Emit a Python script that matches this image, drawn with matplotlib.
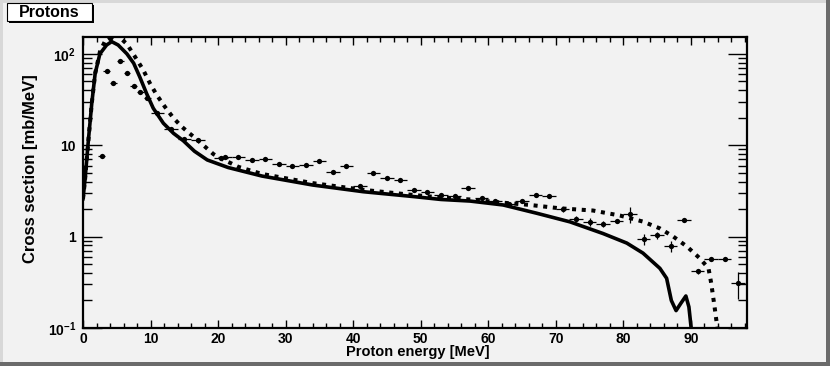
#!/usr/bin/env python3

import matplotlib
matplotlib.use("Agg")
import matplotlib.pyplot as plt
from matplotlib.patches import Rectangle
from matplotlib.ticker import FixedLocator, LogLocator, MultipleLocator, NullFormatter
import numpy as np

# measured points
energy = [2.75, 3.5, 4.0, 4.5, 5.5, 6.5, 7.5, 8.5, 9.5, 11, 13, 15, 17, 20.4, 21,
          23, 25, 27, 29, 31, 33, 35, 37, 39, 41, 43, 45, 47, 49, 51, 53, 55, 57,
          59, 61, 63, 65, 67, 69, 71, 73, 75, 77, 79, 81, 83, 85, 87, 89, 91, 93,
          95, 97]
xsec = [7.6, 65, 148, 47.7, 83, 62, 44.6, 38.4, 33.2, 22.6, 15.2, 11.7, 11.4, 7.2, 7.5,
        7.5, 6.86, 7.08, 6.24, 5.98, 6.14, 6.73, 5.06, 5.98, 3.58, 5.0, 4.42, 4.13, 3.24,
        3.1, 2.86, 2.79, 3.38, 2.67, 2.44, 2.28, 2.47, 2.86, 2.8, 1.99, 1.56, 1.44, 1.37,
        1.48, 1.77, 0.94, 1.03, 0.79, 1.52, 0.417, 0.569, 0.57, 0.308]
energy_err = [0.5] * 9 + [1.0] * 44
xsec_relerr = [0.02] * 35 + [0.05, 0.04, 0.04, 0.04, 0.06, 0.08, 0.1, 0.07, 0.05,
                             0.2, 0.14, 0.08, 0.13, 0.05, 0.06, 0.05, 0.05, 0.32]

# model 1 (solid)
solid_e = [0, 0.3, 0.8, 1.3, 1.8, 2.5, 3.5, 4.25, 5.2, 6.5, 7.5, 8.4, 9.4, 10.4, 11.9,
           13.4, 14.85, 16.5, 18.4, 21.5, 26.5, 34, 41.5, 49, 53, 57.3, 62.2, 67.2,
           72.1, 77, 80.5, 82.9, 85.4, 86.4, 87.1, 87.8, 88.5, 89.25, 89.7, 90.1]
solid_y = [2.6, 4.2, 11.4, 28.8, 61, 100, 125, 136, 125, 100, 79, 56, 37, 25.4, 17.4,
           13.5, 11.2, 8.6, 6.9, 5.7, 4.6, 3.67, 3.1, 2.74, 2.55, 2.45, 2.22, 1.80,
           1.45, 1.08, 0.85, 0.66, 0.45, 0.35, 0.20, 0.155, 0.186, 0.224, 0.17, 0.09]

# model 2 (dotted)
dash_e = [0, 0.3, 0.8, 1.3, 1.8, 2.5, 3.5, 4.5, 5.4, 6.5, 7.7, 8.9, 9.9, 10.9, 12.1,
          13.4, 14.6, 15.6, 16.6, 18.3, 19.3, 20.5, 21.7, 23, 26.5, 34, 41.5, 49, 53,
          57.3, 62.2, 66.2, 70.6, 75.5, 79.5, 82.9, 85.4, 87.4, 89.4, 91.3, 92.6,
          93.0, 93.5, 94.0]
dash_y = [2.6, 4.2, 11.4, 28.8, 61, 105, 150, 170, 152, 128, 93, 67, 47.8, 35.6, 26.5,
          19.8, 16.0, 13.8, 12.0, 9.3, 8.0, 7.1, 6.46, 5.8, 4.85, 3.85, 3.25, 2.85,
          2.68, 2.55, 2.35, 2.22, 2.04, 1.93, 1.70, 1.46, 1.23, 1.0, 0.78, 0.58, 0.45,
          0.31, 0.17, 0.09]

BG = "#f2f2f2"
plt.rcParams["mathtext.fontset"] = "custom"
plt.rcParams["mathtext.rm"] = "Liberation Sans"
plt.rcParams["mathtext.bf"] = "Liberation Sans:bold"

fig = plt.figure(figsize=(8.3, 3.66), dpi=100, facecolor=BG)
ax = fig.add_axes([0.1, 0.1038, 0.8, 0.7952], facecolor=BG)

xs = np.array(xsec)
yerr = xs * np.array(xsec_relerr)
ax.errorbar(energy, xsec, xerr=energy_err, yerr=yerr, fmt="o", color="black",
            markersize=3.8, markeredgewidth=0, elinewidth=0.9, capsize=0, zorder=3)
ax.plot(solid_e, solid_y, color="black", lw=2.6, solid_joinstyle="round", zorder=2)
ax.plot(dash_e, dash_y, color="black", lw=2.9, linestyle=(0, (1.0, 1.4)), zorder=2)

ax.set_yscale("log")
ax.set_xlim(0, 98.3)
ax.set_ylim(0.1, 153)

ax.xaxis.set_major_locator(MultipleLocator(10))
ax.xaxis.set_minor_locator(MultipleLocator(2))
ax.yaxis.set_major_locator(FixedLocator([0.1, 1, 10, 100]))
ax.yaxis.set_minor_locator(LogLocator(base=10, subs=np.arange(2, 10)))
ax.yaxis.set_minor_formatter(NullFormatter())
ax.set_yticklabels([r"$\mathbf{10^{-1}}$", "1", "10", r"$\mathbf{10^{2}}$"])

for s in ax.spines.values():
    s.set_linewidth(1.6)

ax.tick_params(axis="both", which="both", direction="in", top=True, right=True,
               colors="black", width=1.0)
ax.tick_params(axis="y", which="major", length=14, pad=5, labelsize=10)
ax.tick_params(axis="y", which="minor", length=6.5)
ax.tick_params(axis="x", which="major", length=6, pad=3, labelsize=10)
ax.tick_params(axis="x", which="minor", length=3.5)

for lab in ax.get_xticklabels() + ax.get_yticklabels():
    lab.set_family("Liberation Sans")
    lab.set_fontweight("bold")

fig.text(418 / 830, 1 - 352 / 366, "Proton energy [MeV]", ha="center", va="center",
         fontsize=10.5, fontweight="bold", family="Liberation Sans")
fig.text(30 / 830, 1 - 169 / 366, "Cross section [mb/MeV]", ha="center", va="center",
         rotation=90, fontsize=12, fontweight="bold", family="Liberation Sans")

# canvas bevel
W, H = 830, 366
def px_rect(x, y, w, h, color):
    fig.add_artist(Rectangle((x / W, 1 - (y + h) / H), w / W, h / H,
                             transform=fig.transFigure, facecolor=color,
                             edgecolor="none"))

px_rect(0, 0, W, 3, "#d8d8d8")
px_rect(0, 0, 3, H, "#d8d8d8")
px_rect(W - 4, 0, 4, H, "#6b6b6b")
px_rect(0, H - 4, W, 4, "#6b6b6b")

# title box with shadow
px_rect(9, 5, 85, 18, "black")
px_rect(7, 3, 85, 18, "white")
fig.add_artist(Rectangle((7 / W, 1 - 21 / H), 85 / W, 18 / H, transform=fig.transFigure,
                         facecolor="none", edgecolor="black", lw=0.8))
fig.text(49 / W, 1 - 12.5 / H, "Protons", ha="center", va="center", fontsize=11.5,
         fontweight="bold", family="Liberation Sans")

fig.savefig("out.png", dpi=100, facecolor=BG)
